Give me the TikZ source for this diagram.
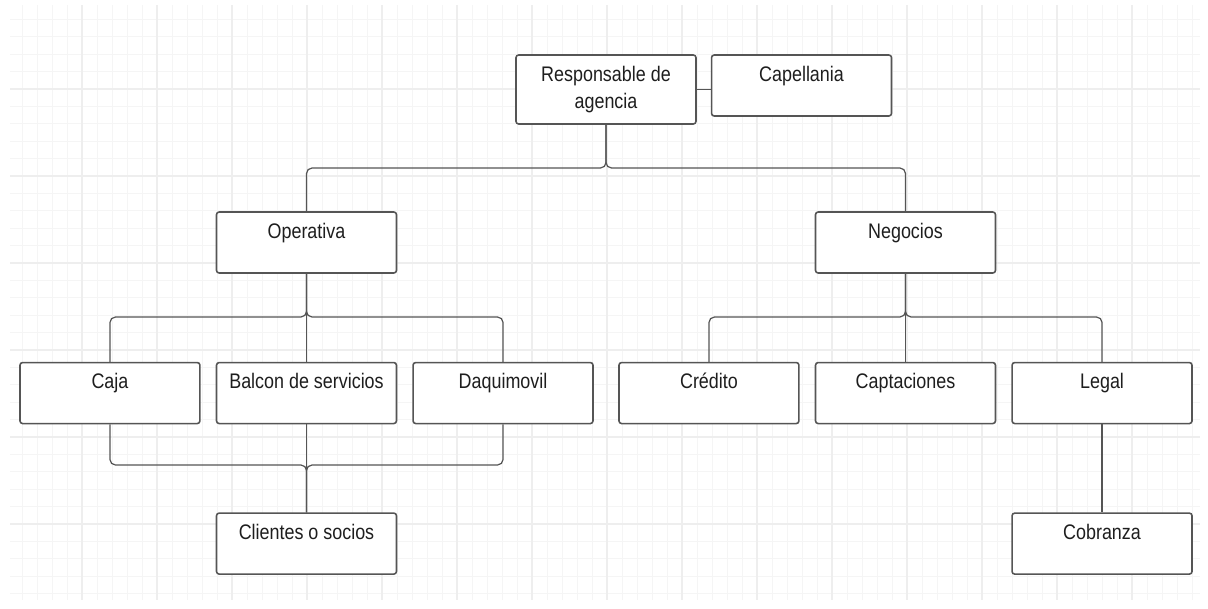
\documentclass[tikz,border=0pt]{standalone}
\usepackage{fontspec}
\setmainfont[FakeStretch=0.85]{Liberation Sans}
\usetikzlibrary{positioning}
\definecolor{edge}{HTML}{555555}
\definecolor{ink}{HTML}{1E1E1E}
\definecolor{gridlo}{HTML}{F5F5F5}
\definecolor{gridhi}{HTML}{EEEEEE}

\begin{document}
\begin{tikzpicture}[
  x=0.02cm, y=-0.02cm,
  node distance=1.76cm and 0.3cm,
  unit/.style={rectangle, rounded corners=1.5pt, draw=edge, line width=0.9pt, fill=white,
    minimum width=3.6cm, minimum height=1.22cm, inner xsep=2pt, inner ysep=6.2pt,
    text height=8.6pt, text depth=13.6pt, font=\fontsize{12}{15}\selectfont, text=ink},
  head/.style={rectangle, rounded corners=1.5pt, draw=edge, line width=0.9pt, fill=white,
    minimum width=3.6cm, minimum height=1.38cm, inner sep=2pt, align=center,
    font=\fontsize{12}{15}\selectfont, text=ink},
  wire/.style={draw=edge, line width=0.7pt, rounded corners=0.11cm},
  finegrid/.style={draw=gridlo, line width=0.5pt},
  coarsegrid/.style={draw=gridhi, line width=0.7pt},
]
  \useasboundingbox (0,0) rectangle (1208,609);

  % background grid
  \foreach \gx in {22,37,...,1200} \draw[finegrid] (\gx,5) -- (\gx,600);
  \foreach \gy in {19.4,36.8,...,600} \draw[finegrid] (10,\gy) -- (1200,\gy);
  \foreach \gx in {82,157,...,1200} \draw[coarsegrid] (\gx,5) -- (\gx,600);
  \foreach \gy in {89,176,...,600} \draw[coarsegrid] (10,\gy) -- (1200,\gy);

  % top
  \node[head] (resp) at (606,89.5) {Responsable de\\agencia};
  \node[unit, anchor=north west] (cap) at ([xshift=0.28cm]resp.north east) {Capellania};

  % second level
  \node[unit] (oper) at (306.5,242.5) {Operativa};
  \node[unit] (neg) at (905.5,242.5) {Negocios};

  % third level
  \node[unit, below=of oper] (balcon) {Balcon de servicios};
  \node[unit, left=of balcon] (caja) {Caja};
  \node[unit, right=of balcon] (daqui) {Daquimovil};
  \node[unit, below=of neg] (capt) {Captaciones};
  \node[unit, left=of capt] (credito) {Crédito};
  \node[unit, right=of capt] (legal) {Legal};

  % bottom
  \node[unit, below=of balcon] (clientes) {Clientes o socios};
  \node[unit, below=of legal] (cobranza) {Cobranza};

  \coordinate (topbus) at (0,168);
  \coordinate (midbus) at (0,317);
  \coordinate (lowbus) at (0,465);

  \draw[wire] (resp.east) -- (resp.east -| cap.west);
  \draw[wire] (resp.south) |- (oper.north |- topbus) -- (oper.north);
  \draw[wire] (resp.south) |- (neg.north |- topbus) -- (neg.north);

  \draw[wire] (oper.south) |- (caja.north |- midbus) -- (caja.north);
  \draw[wire] (oper.south) |- (daqui.north |- midbus) -- (daqui.north);
  \draw[wire] (oper.south) -- (balcon.north);
  \draw[wire] (neg.south) |- (credito.north |- midbus) -- (credito.north);
  \draw[wire] (neg.south) |- (legal.north |- midbus) -- (legal.north);
  \draw[wire] (neg.south) -- (capt.north);

  \draw[wire] (caja.south) |- (clientes.north |- lowbus) -- (clientes.north);
  \draw[wire] (daqui.south) |- (clientes.north |- lowbus) -- (clientes.north);
  \draw[wire] (balcon.south) -- (clientes.north);
  \draw[wire] (legal.south) -- (cobranza.north);
\end{tikzpicture}
\end{document}
